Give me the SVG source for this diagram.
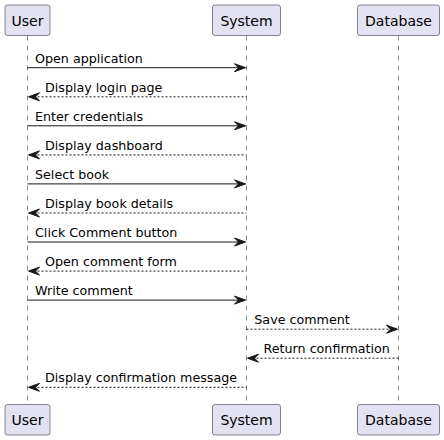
<svg xmlns="http://www.w3.org/2000/svg" width="444" height="440" viewBox="0 0 444 440">
<style>
.box{fill:#E2E2F0;stroke:#181818;stroke-width:0.5}
.pt{font-family:"DejaVu Sans",sans-serif;font-size:14px;fill:#000}
.mt{font-family:"DejaVu Sans",sans-serif;font-size:12.7px;fill:#000}
.life{stroke:#181818;stroke-width:0.5;stroke-dasharray:5,5;fill:none}
.sol{stroke:#181818;stroke-width:1;fill:none}
.dot{stroke:#181818;stroke-width:1;stroke-dasharray:2,2;fill:none}
.ah{fill:#181818;stroke:#181818;stroke-width:1}
</style>
<rect width="444" height="440" fill="#fff"/>
<g id="lifelines">
<line class="life" x1="27.5" y1="35.5" x2="27.5" y2="404.5"/>
<line class="life" x1="246.5" y1="35.5" x2="246.5" y2="404.5"/>
<line class="life" x1="398.5" y1="35.5" x2="398.5" y2="404.5"/>
</g>
<g id="user">
<rect class="box" x="5" y="5" width="45" height="30.5" rx="2.5"/>
<text class="pt" x="27.5" y="25.5" text-anchor="middle">User</text>
<rect class="box" x="5" y="404.5" width="45" height="30.5" rx="2.5"/>
<text class="pt" x="27.5" y="425" text-anchor="middle">User</text>
</g>
<g id="system">
<rect class="box" x="212.5" y="5" width="68" height="30.5" rx="2.5"/>
<text class="pt" x="246.5" y="25.5" text-anchor="middle">System</text>
<rect class="box" x="212.5" y="404.5" width="68" height="30.5" rx="2.5"/>
<text class="pt" x="246.5" y="425" text-anchor="middle">System</text>
</g>
<g id="database">
<rect class="box" x="357.5" y="5" width="82" height="30.5" rx="2.5"/>
<text class="pt" x="398.5" y="25.5" text-anchor="middle">Database</text>
<rect class="box" x="357.5" y="404.5" width="82" height="30.5" rx="2.5"/>
<text class="pt" x="398.5" y="425" text-anchor="middle">Database</text>
</g>
<g id="connectors">
<line class="sol" x1="27.5" y1="67.7" x2="245.5" y2="67.7"/>
<polygon class="ah" points="234.5,63.7 245.5,67.7 234.5,71.7 238.5,67.7"/>
<text class="mt" x="35" y="62.5">Open application</text>

<line class="dot" x1="29.5" y1="96.8" x2="246.5" y2="96.8"/>
<polygon class="ah" points="39.5,92.8 28.5,96.8 39.5,100.8 35.5,96.8"/>
<text class="mt" x="45" y="91.5">Display login page</text>

<line class="sol" x1="27.5" y1="125.8" x2="245.5" y2="125.8"/>
<polygon class="ah" points="234.5,121.8 245.5,125.8 234.5,129.8 238.5,125.8"/>
<text class="mt" x="35" y="120.6">Enter credentials</text>

<line class="dot" x1="29.5" y1="154.9" x2="246.5" y2="154.9"/>
<polygon class="ah" points="39.5,150.9 28.5,154.9 39.5,158.9 35.5,154.9"/>
<text class="mt" x="45" y="149.6">Display dashboard</text>

<line class="sol" x1="27.5" y1="183.9" x2="245.5" y2="183.9"/>
<polygon class="ah" points="234.5,179.9 245.5,183.9 234.5,187.9 238.5,183.9"/>
<text class="mt" x="35" y="178.7">Select book</text>

<line class="dot" x1="29.5" y1="213" x2="246.5" y2="213"/>
<polygon class="ah" points="39.5,209 28.5,213 39.5,217 35.5,213"/>
<text class="mt" x="45" y="207.7">Display book details</text>

<line class="sol" x1="27.5" y1="242" x2="245.5" y2="242"/>
<polygon class="ah" points="234.5,238 245.5,242 234.5,246 238.5,242"/>
<text class="mt" x="35" y="236.8">Click Comment button</text>

<line class="dot" x1="29.5" y1="271.1" x2="246.5" y2="271.1"/>
<polygon class="ah" points="39.5,267.1 28.5,271.1 39.5,275.1 35.5,271.1"/>
<text class="mt" x="45" y="265.8">Open comment form</text>

<line class="sol" x1="27.5" y1="300.1" x2="245.5" y2="300.1"/>
<polygon class="ah" points="234.5,296.1 245.5,300.1 234.5,304.1 238.5,300.1"/>
<text class="mt" x="35" y="294.9">Write comment</text>

<line class="dot" x1="246.5" y1="329.2" x2="396.5" y2="329.2"/>
<polygon class="ah" points="386.5,325.2 397.5,329.2 386.5,333.2 390.5,329.2"/>
<text class="mt" x="254.3" y="324">Save comment</text>

<line class="dot" x1="248.5" y1="358.2" x2="398.5" y2="358.2"/>
<polygon class="ah" points="258.5,354.2 247.5,358.2 258.5,362.2 254.5,358.2"/>
<text class="mt" x="263.5" y="353">Return confirmation</text>

<line class="dot" x1="29.5" y1="387.3" x2="246.5" y2="387.3"/>
<polygon class="ah" points="39.5,383.3 28.5,387.3 39.5,391.3 35.5,387.3"/>
<text class="mt" x="45" y="382">Display confirmation message</text>
</g>
</svg>
